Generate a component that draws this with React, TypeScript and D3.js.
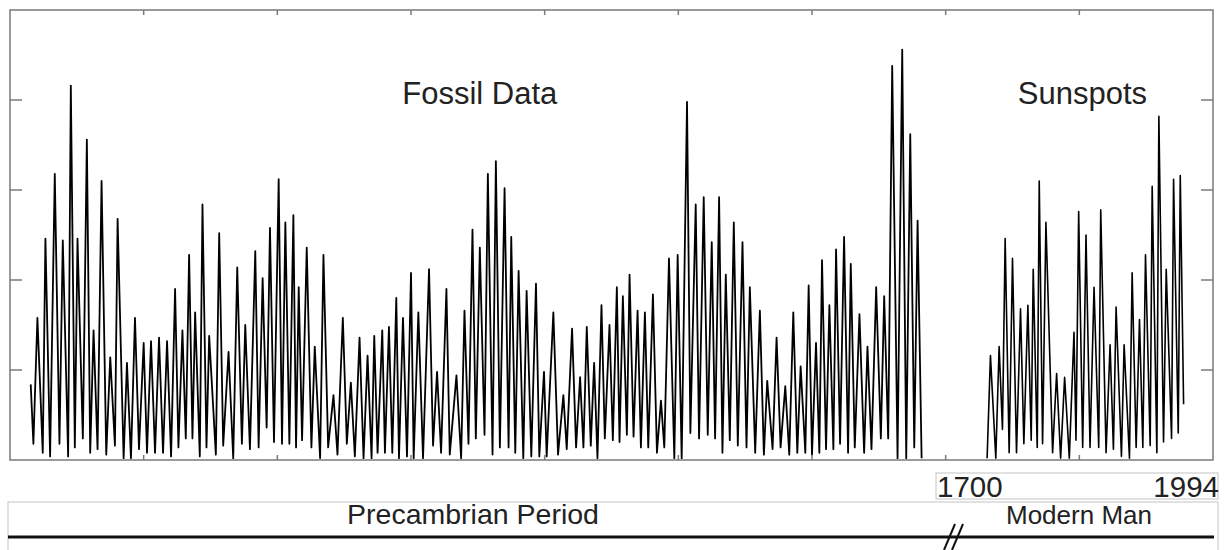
import * as d3 from "d3";

// Fossil record: sample index and value at each turning point (trough / peak)
const fossilIndex = [
  31, 35, 41, 49, 53, 60, 67, 74, 79, 87, 91, 97, 101, 109, 115, 120, 125, 131, 137, 144,
  150, 157, 161, 170, 175, 181, 187, 193, 200, 205, 211, 217, 223, 229, 235, 241, 247, 252, 258, 263,
  268, 273, 277, 284, 288, 294, 298, 308, 313, 319, 327, 334, 340, 347, 352, 359, 367, 372, 378, 384,
  389, 395, 402, 407, 412, 418, 424, 428, 432, 437, 444, 451, 456, 464, 469, 476, 484, 490, 498, 504,
  510, 516, 523, 529, 535, 541, 545, 550, 557, 561, 567, 572, 578, 582, 588, 594, 600, 604, 611, 618,
  627, 633, 639, 645, 653, 658, 668, 675, 680, 686, 692, 697, 703, 710, 715, 722, 727, 733, 740, 746,
  750, 756, 761, 768, 773, 780, 787, 792, 799, 803, 813, 820, 828, 833, 841, 847, 853, 858, 863, 869,
  874, 879, 885, 890, 897, 902, 908, 912, 917, 923, 927, 933, 939, 944, 950, 955, 962, 968, 974, 979,
  986, 994, 999, 1005, 1013, 1018, 1026, 1031, 1038, 1044, 1050, 1055, 1061, 1066, 1071, 1077, 1083, 1089, 1096, 1102,
  1107, 1115, 1122, 1128, 1133, 1141, 1147, 1153, 1160, 1166, 1172, 1178, 1183, 1190, 1195, 1200, 1206, 1211, 1215, 1221,
  1226, 1232, 1236, 1242, 1248, 1254, 1258, 1264, 1271, 1278, 1283, 1289, 1296, 1303, 1308, 1314, 1320, 1328, 1335, 1341,
  1347, 1353, 1358, 1364,
];
const fossilValue = [
  42, 9, 79, 4, 123, 2, 159, 9, 122, 2, 208, 7, 123, 12, 178, 4, 72, 6, 155, 3,
  57, 8, 134, 1, 54, 1, 79, 6, 65, 4, 66, 4, 68, 4, 66, 2, 95, 7, 72, 12,
  114, 12, 82, 2, 142, 7, 69, 3, 126, 8, 60, 1, 107, 9, 75, 6, 116, 7, 101, 18,
  129, 10, 156, 9, 132, 9, 136, 7, 96, 11, 118, 7, 63, 1, 114, 7, 36, 3, 79, 9,
  43, 2, 68, 1, 58, 1, 69, 4, 72, 4, 74, 4, 90, 1, 79, 2, 104, 1, 82, 1,
  106, 8, 49, 4, 95, 3, 47, 1, 83, 9, 128, 12, 118, 14, 159, 3, 166, 7, 151, 7,
  124, 4, 105, 1, 94, 2, 98, 2, 49, 2, 82, 3, 36, 6, 73, 7, 46, 7, 74, 8,
  54, 1, 86, 12, 75, 11, 96, 10, 91, 14, 103, 13, 83, 7, 82, 7, 92, 4, 33, 7,
  112, 1, 114, 1, 199, 15, 142, 12, 146, 14, 121, 12, 146, 4, 103, 11, 132, 8, 121, 7,
  96, 4, 83, 3, 44, 6, 68, 7, 41, 3, 82, 4, 52, 4, 97, 3, 65, 4, 111, 6,
  86, 6, 117, 9, 124, 4, 109, 7, 81, 4, 63, 6, 96, 12, 91, 12, 219, 1, 228, 1,
  181, 7, 133, 1,
];

// Sunspot numbers 1700-1994 at each turning point
const sunspotYear = [
  1700, 1705, 1713, 1718, 1723, 1727, 1733, 1738, 1744, 1750, 1755, 1761, 1766, 1769, 1775, 1778,
  1783, 1788, 1798, 1804, 1810, 1816, 1823, 1830, 1833, 1837, 1843, 1848, 1854, 1860, 1867, 1870,
  1878, 1884, 1889, 1893, 1901, 1905, 1913, 1917, 1923, 1928, 1933, 1937, 1944, 1947, 1954, 1957,
  1964, 1968, 1976, 1979, 1986, 1989, 1994,
];
const sunspotValue = [
  1, 58, 1, 63, 17, 123, 4, 112, 4, 84, 9, 86, 11, 106, 7, 155,
  9, 132, 4, 48, 1, 46, 1, 71, 11, 138, 7, 125, 7, 96, 7, 139,
  4, 64, 6, 85, 2, 64, 1, 104, 7, 78, 7, 114, 8, 152, 4, 191,
  10, 106, 12, 156, 15, 158, 31,
];
const SUNSPOT_INDEX_OFFSET = 238; // sample index = year - offset

const xTicks = [200, 400, 600, 800, 1000, 1200, 1400, 1600];
const yTicks = [50, 100, 150, 200];
const seriesLabels = ["Fossil Data", "Sunspots"];
const yearLabels = ["1700", "1994"];
const periodLabels = ["Precambrian Period", "Modern Man"];

const FONT = "'Liberation Sans', Arial, Helvetica, sans-serif";

export default function App() {
  const W = 1226;
  const H = 550;
  const plot = { left: 10, right: 1213, top: 10, bottom: 460 };

  const x = d3.scaleLinear().domain([0, 1800]).range([plot.left, plot.right]);
  const y = d3.scaleLinear().domain([0, 250]).range([plot.bottom, plot.top]);

  const line = d3
    .line<[number, number]>()
    .x((d) => x(d[0]))
    .y((d) => y(d[1]));

  const fossil: [number, number][] = fossilIndex.map((t, i) => [t, fossilValue[i]]);
  const sunspots: [number, number][] = sunspotYear.map((yr, i) => [
    yr - SUNSPOT_INDEX_OFFSET,
    sunspotValue[i],
  ]);

  const frame = "#7a7a7a";
  const boxStroke = "#c4c4c4";

  return (
    <div style={{ position: "absolute", left: 0, top: 0 }}>
      <svg width={W} height={H} style={{ display: "block", background: "#fff" }}>
        {/* series */}
        <path
          d={line(fossil) || ""}
          fill="none"
          stroke="#000"
          strokeWidth={1.8}
          strokeLinejoin="round"
        />
        <path
          d={line(sunspots) || ""}
          fill="none"
          stroke="#000"
          strokeWidth={1.6}
          strokeLinejoin="round"
        />

        {/* axes frame and ticks */}
        <rect
          x={plot.left}
          y={plot.top}
          width={plot.right - plot.left}
          height={plot.bottom - plot.top}
          fill="none"
          stroke={frame}
          strokeWidth={1.5}
        />
        {yTicks.map((t) => (
          <g key={"y" + t} stroke={frame} strokeWidth={1.5}>
            <line x1={plot.left} x2={plot.left + 12} y1={y(t)} y2={y(t)} />
            <line x1={plot.right - 12} x2={plot.right} y1={y(t)} y2={y(t)} />
          </g>
        ))}
        {xTicks.map((t) => (
          <g key={"x" + t} stroke={frame} strokeWidth={1.5}>
            <line x1={x(t)} x2={x(t)} y1={plot.top} y2={plot.top + 5} />
            <line x1={x(t)} x2={x(t)} y1={plot.bottom - 5} y2={plot.bottom} />
          </g>
        ))}

        {/* series labels */}
        <text x={x(587)} y={y(198)} fontFamily={FONT} fontSize={31} fill="#222">
          {seriesLabels[0]}
        </text>
        <text x={x(1508)} y={y(198)} fontFamily={FONT} fontSize={31} fill="#222">
          {seriesLabels[1]}
        </text>

        {/* year box */}
        <rect x={936} y={473} width={282} height={26} fill="#fff" stroke={boxStroke} strokeWidth={1} />
        <text x={937} y={497} fontFamily={FONT} fontSize={29.5} fill="#222">
          {yearLabels[0]}
        </text>
        <text x={1219} y={497} textAnchor="end" fontFamily={FONT} fontSize={29.5} fill="#222">
          {yearLabels[1]}
        </text>

        {/* period box */}
        <rect x={8} y={502} width={1210} height={60} fill="#fff" stroke={boxStroke} strokeWidth={1} />
        <text x={473} y={524} textAnchor="middle" fontFamily={FONT} fontSize={28.5} fill="#222">
          {periodLabels[0]}
        </text>
        <text x={1006} y={524} fontFamily={FONT} fontSize={26} fill="#222">
          {periodLabels[1]}
        </text>
        <line x1={8} x2={1214} y1={537} y2={537} stroke="#111" strokeWidth={3} />
        <line x1={944} x2={955} y1={550} y2={524} stroke="#111" strokeWidth={2} />
        <line x1={952} x2={963} y1={550} y2={524} stroke="#111" strokeWidth={2} />
      </svg>
    </div>
  );
}
